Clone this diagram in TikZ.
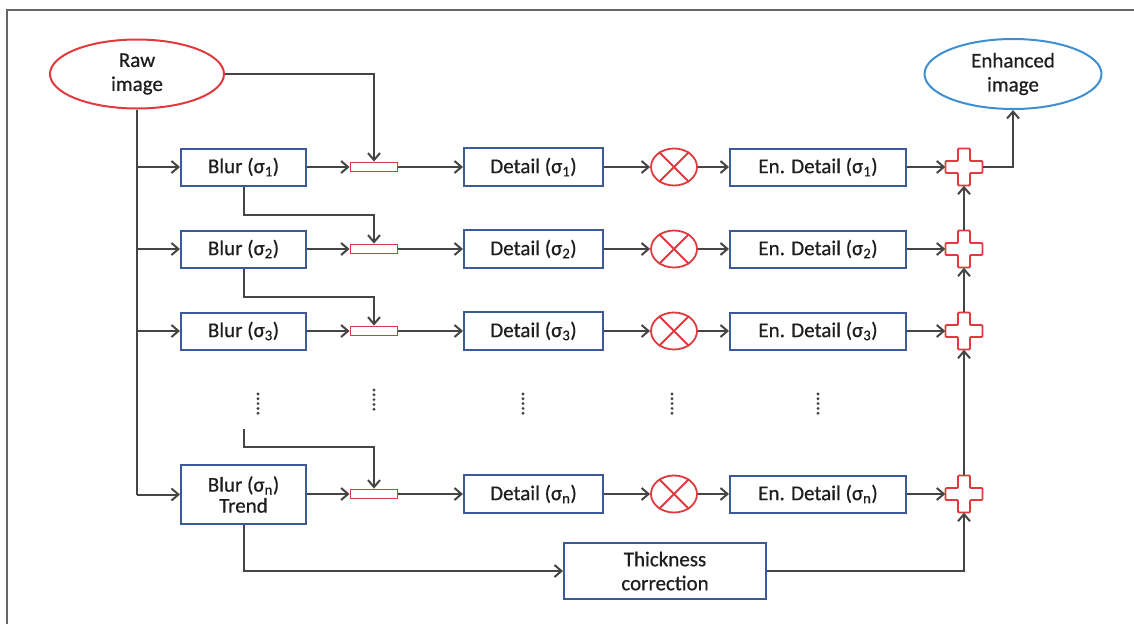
\documentclass[tikz,border=0pt]{standalone}
\usepackage{fontspec}
\setmainfont[FakeBold=0.6,AutoFakeBold=0.6]{Carlito}
\usetikzlibrary{arrows.meta,shapes.geometric,calc}
\definecolor{lngray}{HTML}{454545}
\definecolor{boxblue}{HTML}{3D5A98}
\definecolor{redc}{HTML}{E0393E}
\definecolor{ellblue}{HTML}{3D8FD1}
\definecolor{txt}{HTML}{1E1E1E}
\begin{document}
\begin{tikzpicture}[x=1pt,y=-1pt,
  every node/.style={font=\fontsize{21}{24}\selectfont\bfseries, text=txt},
  bx/.style={draw=boxblue, line width=2pt, rectangle, inner sep=0pt, align=center},
  blurbox/.style={bx, minimum width=125, minimum height=37},
  detbox/.style={bx, minimum width=139, minimum height=38},
  enbox/.style={bx, minimum width=176, minimum height=37},
  subbar/.style={draw=redc, line width=1.8pt, rectangle, inner sep=0pt, minimum width=47, minimum height=9},
  mulc/.style={draw=redc, line width=1.8pt, ellipse, inner sep=0pt, minimum width=46, minimum height=37},
  plusn/.style={rectangle, inner sep=0pt, minimum size=37},
  ln/.style={draw=lngray, line width=2pt},
  arr/.style={ln, -{Straight Barb[length=7pt,width=12pt,line width=2pt]}},
  ell/.style={ellipse, line width=2pt, inner sep=0pt, align=center}
]
\useasboundingbox (0,0) rectangle (1134,624);
\draw[draw=gray!80!black, line width=1.4pt] (7,624) -- (7,10) -- (1134,10);

% ellipses
\node[ell, draw=redc, minimum width=174, minimum height=69] (raw) at (137,74) {Raw\\image};
\node[ell, draw=ellblue, minimum width=177, minimum height=70] (enh) at (1013,74) {Enhanced\\image};

% rows
\foreach \i/\y/\s in {1/167/1, 2/249/2, 3/331/3}{
  \node[blurbox] (b\i) at (243.5,\y) {Blur (σ\textsubscript{\s})};
}
\node[blurbox, minimum height=59] (bn) at (243.5,494.5) {Blur (σ\textsubscript{n})\\[-3pt]Trend};

\foreach \i/\y/\s in {1/167/1, 2/249/2, 3/331/3, n/494/n}{
  \node[subbar] (bar\i) at (374,\y) {};
  \node[detbox] (d\i) at (533.5,\y) {Detail (σ\textsubscript{\s})};
  \node[mulc] (m\i) at (674,\y) {};
  \draw[draw=redc, line width=1.8pt] (m\i.45) -- (m\i.225) (m\i.135) -- (m\i.315);
  \node[enbox] (e\i) at (818,\y) {En. Detail (σ\textsubscript{\s})};
  \node[plusn] (p\i) at (964,\y) {};
  \draw[draw=redc, line width=1.8pt, fill=white, rounded corners=1pt, shift={(p\i)}]
    (-6,-18.5) -- (6,-18.5) -- (6,-6) -- (18.5,-6) -- (18.5,6) -- (6,6) -- (6,18.5)
    -- (-6,18.5) -- (-6,6) -- (-18.5,6) -- (-18.5,-6) -- (-6,-6) -- cycle;
  \draw[arr] (bar\i.east) -- (d\i.west);
  \draw[arr] (d\i.east) -- (m\i.west);
  \draw[arr] (m\i.east) -- (e\i.west);
  \draw[arr] (e\i.east) -- (p\i.west);
}
\foreach \i in {1,2,3}{
  \draw[arr] (b\i.east) -- (bar\i.west);
}
\draw[arr] (bn.east |- barn) -- (barn.west);

\node[bx, minimum width=202, minimum height=56] (tc) at (665,571) {Thickness\\correction};

% raw image connections
\draw[arr] (raw.east) -| (bar1.north);
\draw[ln] (raw.south) -- (raw.south |- bn.west);
\foreach \i in {1,2,3,n}{
  \draw[arr] (raw.south |- b\i.west) -- (b\i.west);
}
% blur to next subtract
\draw[arr] (b1.south) -- ++(0,28) -| (bar2.north);
\draw[arr] (b2.south) -- ++(0,28) -| (bar3.north);
\coordinate (sn) at (243.5,429);
\draw[arr] (sn) -- ++(0,18) -| (barn.north);

% trend to thickness
\draw[arr] (bn.south) |- (tc.west);
\draw[arr] (tc.east) -| (pn.south);

% plus chain
\draw[arr] (pn.north) -- (p3.south);
\draw[arr] (p3.north) -- (p2.south);
\draw[arr] (p2.north) -- (p1.south);
\draw[arr] (p1.east) -| (enh.south);

% vertical dots
\foreach \x/\y in {258/394, 374/390, 523/394, 672/394, 818/394}{
  \foreach \k in {0,...,4}{
    \fill[lngray] (\x,\y+4.8*\k) circle (1.6);
  }
}
\end{tikzpicture}
\end{document}
